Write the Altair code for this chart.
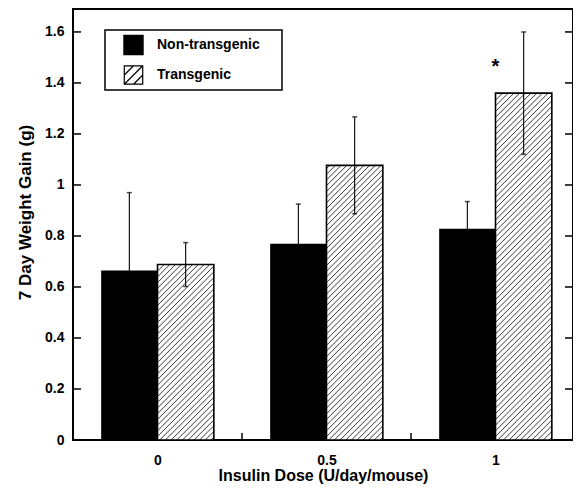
import altair as alt
import pandas as pd
import numpy as np

# ---- data ----
doses = [0, 0.5, 1]
series = ["Non-transgenic", "Transgenic"]
nontg_mean = [0.665, 0.770, 0.828]
nontg_err = [0.305, 0.155, 0.107]
tg_mean = [0.688, 1.077, 1.360]
tg_err = [0.086, 0.190, 0.240]
y_ticks = [0, 0.2, 0.4, 0.6, 0.8, 1.0, 1.2, 1.4, 1.6]
x_labels = [0, 0.5, 1]
x_ticks = [0, 0.25, 0.5, 0.75, 1]
star_dose = [1.0]
star_y = [1.44]

# ---- layout ----
W, H = 500, 431
PX_PER_X = 338
XDOM = [-0.25, -0.25 + W / PX_PER_X]
YDOM = [0, 1.69]
BAR_W = 1 / 6
FONT = "Liberation Sans"
HATCH_SPACING = 5.7

rows = []
for i, d in enumerate(doses):
    rows.append(dict(series=series[0], dose=d, x0=d - BAR_W, x1=d,
                     mean=nontg_mean[i], err=nontg_err[i]))
    rows.append(dict(series=series[1], dose=d, x0=d, x1=d + BAR_W,
                     mean=tg_mean[i], err=tg_err[i]))
df = pd.DataFrame(rows)
df["cx"] = (df.x0 + df.x1) / 2
df["lo"] = df["mean"] - df["err"]
df["hi"] = df["mean"] + df["err"]

# hatch segments ("/") inside transgenic bars, built in data space
sx = W / (XDOM[1] - XDOM[0])
sy = H / (YDOM[1] - YDOM[0])
segs = []
for _, r in df[df.series == series[1]].iterrows():
    bw = (r.x1 - r.x0) * sx
    bh = r["mean"] * sy
    c = -bw + HATCH_SPACING / 2
    while c < bh:
        u1 = max(0.0, -c)
        u2 = min(bw, bh - c)
        if u2 > u1:
            segs.append(dict(xa=r.x0 + u1 / sx, ya=(u1 + c) / sy,
                             xb=r.x0 + u2 / sx, yb=(u2 + c) / sy))
        c += HATCH_SPACING
hatch = pd.DataFrame(segs)

xs = alt.Scale(domain=XDOM, nice=False, zero=False)
ys = alt.Scale(domain=YDOM, nice=False, zero=False)

x_axis = alt.Axis(values=x_labels, format="~g", title="Insulin Dose (U/day/mouse)",
                  ticks=False, tickSize=0, domain=False, grid=False,
                  labelFont=FONT, labelFontWeight="bold", labelFontSize=14,
                  labelColor="black", labelPadding=13,
                  titleFont=FONT, titleFontWeight="bold", titleFontSize=16,
                  titleColor="black", titleBaseline="alphabetic", titleY=40)
y_axis = alt.Axis(values=y_ticks, format="~g", title="7 Day Weight Gain (g)",
                  ticks=False, tickSize=0, domain=False, grid=False,
                  labelFont=FONT, labelFontWeight="bold", labelFontSize=14,
                  labelColor="black", labelPadding=9,
                  titleFont=FONT, titleFontWeight="bold", titleFontSize=17,
                  titleColor="black", titleBaseline="alphabetic",
                  titleX=-43, titleY=203)


def X(f):
    return alt.X(f, scale=xs, axis=x_axis)


def Y(f):
    return alt.Y(f, scale=ys, axis=y_axis)


base = alt.Chart(df)

bars_black = base.transform_filter(alt.datum.series == series[0]).mark_rect(
    color="black"
).encode(x=X("x0:Q"), x2="x1:Q", y=Y("mean:Q"), y2=alt.datum(0))

tg = base.transform_filter(alt.datum.series == series[1])
bars_tg_fill = tg.mark_rect(fill="white").encode(
    x=X("x0:Q"), x2="x1:Q", y=Y("mean:Q"), y2=alt.datum(0))
hatch_lines = alt.Chart(hatch).mark_rule(color="#222222", strokeWidth=0.9).encode(
    x=X("xa:Q"), x2="xb:Q", y=Y("ya:Q"), y2="yb:Q")
bars_tg_outline = tg.mark_rect(fill=None, stroke="black", strokeWidth=1.6).encode(
    x=X("x0:Q"), x2="x1:Q", y=Y("mean:Q"), y2=alt.datum(0))

err_rule = base.mark_rule(color="black", strokeWidth=1.1).encode(
    x=X("cx:Q"), y=Y("lo:Q"), y2="hi:Q")
cap_hi = base.mark_tick(color="black", orient="horizontal", size=5, thickness=1.5).encode(
    x=X("cx:Q"), y=Y("hi:Q"))
cap_lo = base.mark_tick(color="black", orient="horizontal", size=5, thickness=1.5).encode(
    x=X("cx:Q"), y=Y("lo:Q"))

# inward ticks
yt = pd.DataFrame({"t": y_ticks})
xt = pd.DataFrame({"t": x_ticks})
ytick_l = alt.Chart(yt).mark_rule(color="black", strokeWidth=1.5).encode(
    y=Y("t:Q"), x=alt.value(0), x2=alt.value(8))
ytick_r = alt.Chart(yt).mark_rule(color="black", strokeWidth=1.5).encode(
    y=Y("t:Q"), x=alt.value(W - 8), x2=alt.value(W))
xtick_b = alt.Chart(xt).mark_rule(color="black", strokeWidth=1.5).encode(
    x=X("t:Q"), y=alt.value(H), y2=alt.value(H - 7))

star = alt.Chart(pd.DataFrame({"d": star_dose, "y": star_y})).mark_text(
    text="*", font=FONT, fontWeight="bold", fontSize=20, baseline="alphabetic",
    align="center", color="black"
).encode(x=X("d:Q"), y=Y("y:Q"))

# legend
one = pd.DataFrame({"a": [0]})
leg_box = alt.Chart(one).mark_rect(
    fill="white", stroke="black", strokeWidth=1.5
).encode(x=alt.value(32), x2=alt.value(209), y=alt.value(21), y2=alt.value(81))
leg_black = alt.Chart(one).mark_point(
    shape="square", filled=True, fill="black", stroke="black", size=340, opacity=1
).encode(x=alt.value(60.5), y=alt.value(36))
hatch_path = "M-1,-1L1,-1L1,1L-1,1Z M-1,0L0,-1 M-1,1L1,-1 M0,1L1,0"
leg_hatch = alt.Chart(one).mark_point(
    shape=hatch_path, filled=False, stroke="black", strokeWidth=1.2, size=340, opacity=1
).encode(x=alt.value(60.5), y=alt.value(66))
leg_t1 = alt.Chart(one).mark_text(
    font=FONT, fontWeight="bold", fontSize=14, align="left", baseline="middle", color="black"
).encode(x=alt.value(84), y=alt.value(36), text=alt.value(series[0]))
leg_t2 = alt.Chart(one).mark_text(
    font=FONT, fontWeight="bold", fontSize=14, align="left", baseline="middle", color="black"
).encode(x=alt.value(84), y=alt.value(66), text=alt.value(series[1]))

chart = alt.layer(
    bars_black, xtick_b, ytick_l, ytick_r, bars_tg_fill, hatch_lines, bars_tg_outline,
    err_rule, cap_hi, cap_lo, star, leg_box, leg_black, leg_hatch, leg_t1, leg_t2
).properties(
    width=W, height=H,
    autosize=alt.AutoSizeParams(type="none"),
    padding={"left": 65, "top": 1, "right": 0, "bottom": 48},
    background="white",
).configure_view(stroke="black", strokeWidth=2)

chart.save("out.html", embed_options={"renderer": "svg", "actions": False})
